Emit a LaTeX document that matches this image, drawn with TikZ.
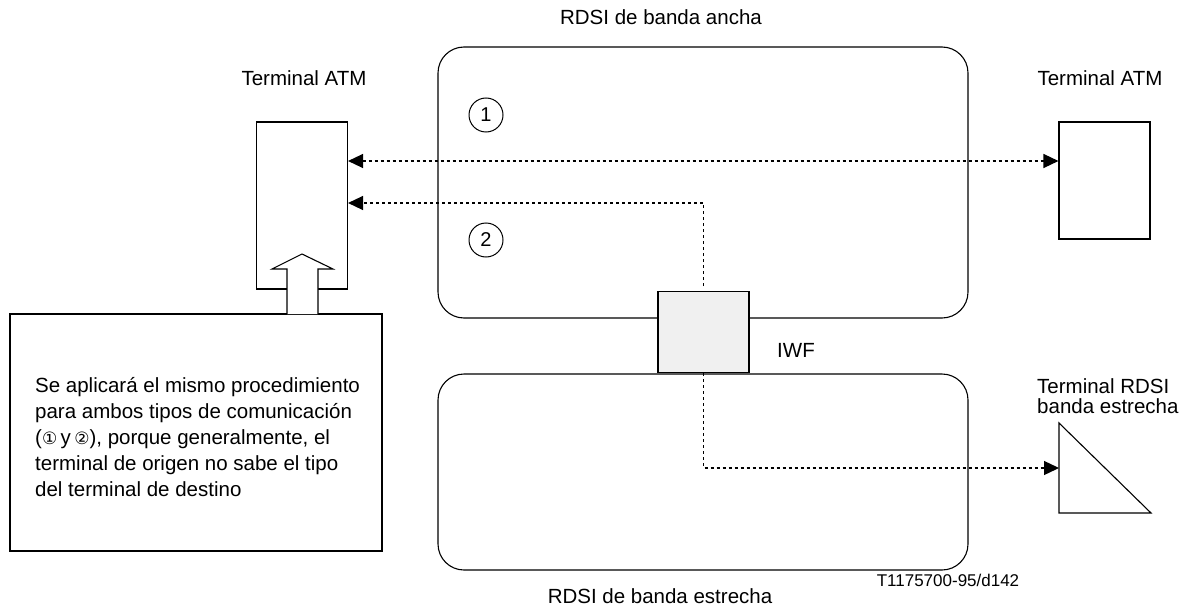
\documentclass[tikz,border=0pt]{standalone}
\usepackage{fontspec}
\setmainfont{Liberation Sans}
\newfontfamily\symfont{DejaVu Sans}
\usetikzlibrary{arrows.meta}
\begin{document}
\begin{tikzpicture}[x=1pt,y=-1pt,
  box/.style={draw, line width=1.1pt, inner sep=0pt},
  net/.style={draw, line width=1.1pt, rounded corners=26pt, inner sep=0pt},
  lbl/.style={font=\fontsize{20.5}{22}\selectfont, inner sep=0pt},
  dots/.style={line width=1.3pt, dash pattern=on 3pt off 3pt},
  tip/.style={-{Triangle[length=15pt,width=14pt]}},
  circ/.style={draw, circle, line width=1pt, minimum size=34pt, inner sep=0pt, font=\fontsize{20}{22}\selectfont}]
\useasboundingbox (0,0) rectangle (1190,607);
% networks
\node[net, minimum width=530pt, minimum height=271pt] (broad) at (703,182.5) {};
\node[net, minimum width=530pt, minimum height=196pt] (narrow) at (703,472) {};
% IWF
\node[box, fill=black!6, minimum width=91pt, minimum height=81pt] (iwf) at (703.5,332) {};
\node[lbl] (iwflbl) at (796,350) {IWF};
% terminals
\node[box, minimum width=91pt, minimum height=167pt] (tl) at (302,205.5) {};
\node[box, minimum width=91pt, minimum height=117pt] (tr) at (1104.5,180.5) {};
\draw[line width=1.1pt] (1059,423) -- (1151,513) -- (1059,513) -- cycle;
\coordinate (tri) at (1059,468);
% labels
\node[lbl] (lb1) at (661,17) {RDSI de banda ancha};
\node[lbl] (lb2) at (660,596) {RDSI de banda estrecha};
\node[lbl] (lb3) at (304,78) {Terminal ATM};
\node[lbl] (lb4) at (1100,78) {Terminal ATM};
\node[lbl, anchor=north west, align=left, font=\fontsize{20.5}{20}\selectfont] (lb5) at (1037,378) {Terminal RDSI\\banda estrecha};
\node[font=\fontsize{17}{18}\selectfont, inner sep=0pt] (code) at (948,580) {T1175700-95/d142};
% circles
\node[circ] (c1) at (486,115) {1};
\node[circ] (c2) at (486,240) {2};
% connectors
\coordinate (l1) at (tl.east |- 0,161);
\coordinate (r1) at (tr.west |- 0,161);
\draw[dots, {Triangle[length=15pt,width=14pt]}-{Triangle[length=15pt,width=14pt]}] (l1) -- (r1);
\coordinate (l2) at (tl.east |- 0,203);
\coordinate (up) at (iwf.north |- 0,286);
\draw[dots, tip] (up) |- (l2);
\draw[dots, tip] (iwf.south) |- (tri);
% note box and big arrow
\node[box, minimum width=372pt, minimum height=237pt] (note) at (196,432.5) {};
\node[anchor=west, inner sep=0pt, align=left, font=\fontsize{20.5}{26}\selectfont] (notetext) at (35,437)
{Se aplicará el mismo procedimiento\\para ambos tipos de comunicación\\({\symfont\fontsize{17}{26}\selectfont ①}\,y\,{\symfont\fontsize{17}{26}\selectfont ②}), porque generalmente, el\\terminal de origen no sabe el tipo\\del terminal de destino};
\draw[line width=1.1pt, fill=white] (287,314) -- (287,269) -- (272,269) -- (302,254) -- (333,269) -- (318,269) -- (318,314);
\end{tikzpicture}
\end{document}
